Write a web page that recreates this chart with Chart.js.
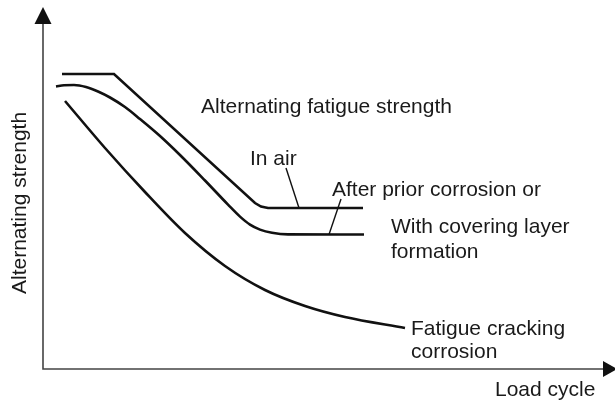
<!DOCTYPE html>
<html lang="en">
<head>
    <meta charset="UTF-8">
    <title>Alternating strength vs load cycle</title>
    <script src="https://cdn.jsdelivr.net/npm/chart.js"></script>
    <style>
        html, body { margin: 0; padding: 0; background: #fff; }
        .chart-box { width: 615px; height: 400px; position: relative; }
    </style>
</head>
<body>
    <div class="chart-box">
        <canvas id="strengthChart"></canvas>
    </div>
    <script>
        // Curve points: [load cycle, alternating strength] in arbitrary units
        const inAir = [[19, 295], [71, 295], [212, 166], [218, 162.5], [225, 161], [320, 161]];
        const coveringLayer = [[13, 282.5], [21, 283.8], [31, 284], [43, 282], [55, 277.5], [67, 271.5],
            [82, 262], [97, 250], [117, 233], [137, 214], [162, 188.5], [185, 164.4], [197, 152.4],
            [207, 144.4], [217, 139.4], [229, 136.2], [245, 134.6], [321, 134.5]];
        const crackingCorrosion = [[22, 268], [62, 221], [102, 177], [142, 136], [182, 103], [222, 79],
            [262, 63], [302, 52], [362, 41]];
        // short pointer lines from the labels to the flat parts
        const inAirPointer = [[243, 201], [256, 161]];
        const coveringPointer = [[298, 170], [286, 134.5]];

        const xRange = [0, 572];
        const yRange = [0, 362];

        const FONT = '21px "Liberation Sans", Arial, Helvetica, sans-serif';
        const INK = '#111';

        function toPoints(arr) {
            return arr.map(p => ({ x: p[0], y: p[1] }));
        }

        function curve(data, opts) {
            return Object.assign({
                data: toPoints(data),
                showLine: true,
                borderColor: INK,
                borderWidth: 2.6,
                pointRadius: 0,
                fill: false,
                tension: 0
            }, opts || {});
        }

        // axes with arrow heads plus the text notes
        const sketchPlugin = {
            id: 'sketch',
            afterDatasetsDraw(chart) {
                const ctx = chart.ctx;
                const a = chart.chartArea;
                ctx.save();

                ctx.strokeStyle = '#444';
                ctx.fillStyle = '#111';
                ctx.lineWidth = 1.6;
                ctx.beginPath();
                ctx.moveTo(a.left, a.top + 10);
                ctx.lineTo(a.left, a.bottom);
                ctx.lineTo(a.right - 8, a.bottom);
                ctx.stroke();

                // y arrow
                ctx.beginPath();
                ctx.moveTo(a.left, a.top);
                ctx.lineTo(a.left - 8.5, a.top + 17);
                ctx.lineTo(a.left + 8.5, a.top + 17);
                ctx.closePath();
                ctx.fill();
                // x arrow
                ctx.beginPath();
                ctx.moveTo(a.right + 2, a.bottom);
                ctx.lineTo(a.right - 12, a.bottom - 8);
                ctx.lineTo(a.right - 12, a.bottom + 8);
                ctx.closePath();
                ctx.fill();

                ctx.font = FONT;
                ctx.fillStyle = '#1a1a1a';
                ctx.textBaseline = 'alphabetic';
                ctx.textAlign = 'left';
                const notes = [
                    ['Alternating fatigue strength', 201, 113],
                    ['In air', 250, 165],
                    ['After prior corrosion or', 332, 196],
                    ['With covering layer', 391, 233],
                    ['formation', 391, 258],
                    ['Fatigue cracking', 411, 335],
                    ['corrosion', 411, 358],
                    ['Load cycle', 495, 396]
                ];
                notes.forEach(n => ctx.fillText(n[0], n[1], n[2]));

                ctx.translate(26, 294);
                ctx.rotate(-Math.PI / 2);
                ctx.fillText('Alternating strength', 0, 0);
                ctx.restore();
            }
        };

        new Chart(document.getElementById('strengthChart'), {
            type: 'scatter',
            data: {
                datasets: [
                    curve(inAir),
                    curve(coveringLayer, { cubicInterpolationMode: 'monotone' }),
                    curve(crackingCorrosion, { cubicInterpolationMode: 'monotone' }),
                    curve(inAirPointer, { borderWidth: 1.4 }),
                    curve(coveringPointer, { borderWidth: 1.4 })
                ]
            },
            options: {
                responsive: true,
                maintainAspectRatio: false,
                animation: false,
                layout: { padding: { left: 43, right: 0, top: 7, bottom: 31 } },
                plugins: { legend: { display: false }, tooltip: { enabled: false } },
                scales: {
                    x: { type: 'linear', min: xRange[0], max: xRange[1], display: false },
                    y: { type: 'linear', min: yRange[0], max: yRange[1], display: false }
                }
            },
            plugins: [sketchPlugin]
        });
    </script>
</body>
</html>
